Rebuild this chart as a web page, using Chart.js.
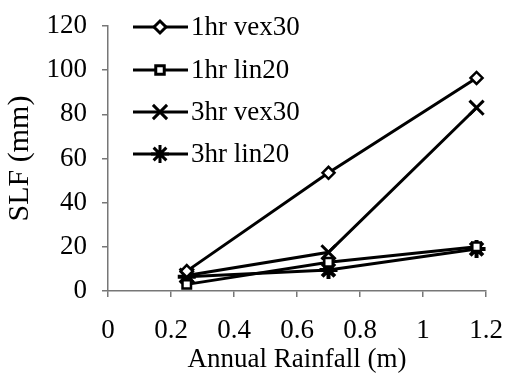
<!DOCTYPE html>
<html>
<head>
<meta charset="utf-8">
<script src="https://cdn.jsdelivr.net/npm/chart.js@4/dist/chart.umd.min.js"></script>
<style>
  html, body { margin: 0; padding: 0; background: #fff; }
  #wrap { width: 506px; height: 376px; }
</style>
</head>
<body>
<div id="wrap"><canvas id="chart" width="506" height="376"></canvas></div>
<script>
// annual rainfall (m) for the three sites
const rainfall = [0.25, 0.7, 1.17];

const seriesNames = ['1hr vex30', '1hr lin20', '3hr vex30', '3hr lin20'];
const vex30_1hr = [9, 53.5, 96.5];
const lin20_1hr = [3, 13, 20];
const vex30_3hr = [7, 17.5, 83];
const lin20_3hr = [6.5, 9.5, 19];

const xTicks = [0, 0.2, 0.4, 0.6, 0.8, 1, 1.2];
const yTicks = [0, 20, 40, 60, 80, 100, 120];

const serif = '"Liberation Serif", "Times New Roman", Times, serif';

const styles = [
  { pointStyle: 'rectRot', radius: 6, bw: 2.5 },
  { pointStyle: 'rect', radius: 6, bw: 2.5 },
  { pointStyle: 'crossRot', radius: 10, bw: 3 },
  { pointStyle: 'star', radius: 9, bw: 4 },
];

const values = [vex30_1hr, lin20_1hr, vex30_3hr, lin20_3hr];

const datasets = values.map((vals, i) => ({
  label: seriesNames[i],
  data: rainfall.map((x, j) => ({ x: x, y: vals[j] })),
  borderColor: '#000',
  backgroundColor: '#fff',
  borderWidth: 3,
  pointStyle: styles[i].pointStyle,
  pointRadius: styles[i].radius,
  pointBorderWidth: styles[i].bw,
  pointBackgroundColor: '#fff',
  pointBorderColor: '#000',
  showLine: true,
}));

// legend drawn inside the plot, top left
const insideLegend = {
  id: 'insideLegend',
  afterDraw(chart) {
    const ctx = chart.ctx;
    const rowY = [27, 70, 112, 154];
    ctx.save();
    datasets.forEach((ds, i) => {
      const y = rowY[i];
      ctx.strokeStyle = '#000';
      ctx.lineWidth = 3;
      ctx.beginPath();
      ctx.moveTo(133, y);
      ctx.lineTo(188, y);
      ctx.stroke();
      ctx.fillStyle = '#fff';
      Chart.helpers.drawPoint(ctx, {
        pointStyle: ds.pointStyle,
        radius: ds.pointRadius,
        borderWidth: ds.pointBorderWidth,
        rotation: 0
      }, 160, y);
      ctx.fillStyle = '#000';
      ctx.font = '27px ' + serif;
      ctx.textBaseline = 'middle';
      ctx.fillText(ds.label, 191, y + 1);
    });
    ctx.restore();
  }
};

// fixed plot box: let the layout padding alone decide the chart area
const noOverflow = (scale) => {
  scale.paddingTop = 0;
  scale.paddingBottom = 0;
  scale.paddingLeft = 0;
  scale.paddingRight = 0;
};

new Chart(document.getElementById('chart'), {
  type: 'scatter',
  data: { datasets: datasets },
  options: {
    responsive: false,
    animation: false,
    layout: { padding: { top: 26, right: 20, left: 0, bottom: 0 } },
    plugins: {
      legend: { display: false },
      tooltip: { enabled: false }
    },
    scales: {
      x: {
        type: 'linear',
        min: 0,
        max: 1.2,
        afterBuildTicks: (scale) => { scale.ticks = xTicks.map(v => ({ value: v })); },
        ticks: {
          color: '#000',
          font: { family: serif, size: 27 },
          padding: 18,
          maxRotation: 0,
          callback: (v) => String(v)
        },
        grid: { drawOnChartArea: false, tickLength: 6, color: '#777', lineWidth: 1.5 },
        border: { color: '#777', width: 1.5 },
        title: {
          display: true,
          text: 'Annual Rainfall (m)',
          color: '#000',
          font: { family: serif, size: 27 },
          padding: { top: 0, bottom: 0 }
        },
        afterFit: (scale) => { scale.height = 85; noOverflow(scale); }
      },
      y: {
        type: 'linear',
        min: 0,
        max: 120,
        afterBuildTicks: (scale) => { scale.ticks = yTicks.map(v => ({ value: v })); },
        ticks: {
          color: '#000',
          font: { family: serif, size: 27 },
          padding: 15
        },
        grid: { drawOnChartArea: false, tickLength: 6, color: '#777', lineWidth: 1.5 },
        border: { color: '#777', width: 1.5 },
        title: {
          display: true,
          text: 'SLF (mm)',
          color: '#000',
          font: { family: serif, size: 30 },
          padding: { top: 2, bottom: 0 }
        },
        afterFit: (scale) => { scale.width = 108; noOverflow(scale); }
      }
    }
  },
  plugins: [insideLegend]
});
</script>
</body>
</html>
